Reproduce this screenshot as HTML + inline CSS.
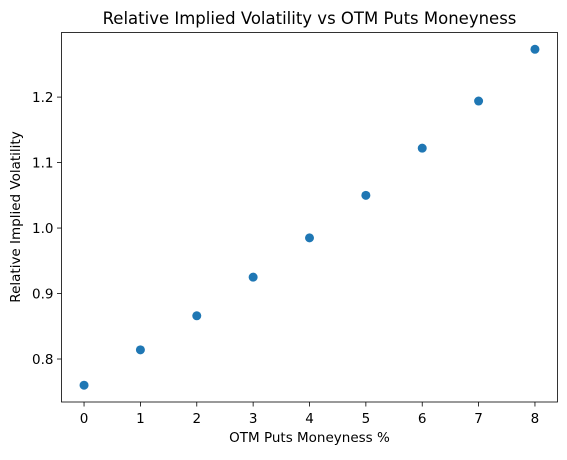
<!DOCTYPE html>
<html><head><meta charset="utf-8"><style>
body{margin:0;background:#fff;font-family:"Liberation Sans","DejaVu Sans",sans-serif;}
</style></head><body>
<svg id="chart" width="567" height="455" xmlns="http://www.w3.org/2000/svg" font-family="DejaVu Sans, Liberation Sans, sans-serif">
<text x="309.5" y="24" text-anchor="middle" font-size="16.5">Relative Implied Volatility vs OTM Puts Moneyness</text>
<g id="plot"></g>
<text x="309.5" y="442" text-anchor="middle" font-size="13.5">OTM Puts Moneyness %</text>
<text transform="translate(20,217) rotate(-90)" text-anchor="middle" font-size="13.5">Relative Implied Volatility</text>
</svg>
<script>
const categories=[0,1,2,3,4,5,6,7,8];
const values=[0.760,0.814,0.866,0.925,0.985,1.050,1.122,1.194,1.273];
const xTicks=[0,1,2,3,4,5,6,7,8];
const yTicks=[0.8,0.9,1.0,1.1,1.2];
const L=61.5,R=557.5,T=32.5,B=402;
const xmin=Math.min(...categories),xmax=Math.max(...categories);
const ymin0=Math.min(...values),ymax0=Math.max(...values);
const xp=(xmax-xmin)*0.05,yp=(ymax0-ymin0)*0.05;
const x=v=>L+(v-(xmin-xp))/((xmax+xp)-(xmin-xp))*(R-L);
const y=v=>B-(v-(ymin0-yp))/((ymax0+yp)-(ymin0-yp))*(B-T);
const g=document.getElementById('plot');
const NS='http://www.w3.org/2000/svg';
function mk(t,a){const e=document.createElementNS(NS,t);for(const k in a)e.setAttribute(k,a[k]);g.appendChild(e);return e;}
const fr=mk('rect',{x:L,y:T,width:R-L,height:B-T,fill:'none',stroke:'#000','stroke-width':0.8});


xTicks.forEach(t=>{
 const l=mk('line',{x1:x(t),x2:x(t),y1:B,y2:B+4.5,stroke:'#000','stroke-width':0.8});
 
 
 const tx=mk('text',{x:x(t),y:B+21,'text-anchor':'middle','font-size':13.5});
 
 
 tx.textContent=t;
});
yTicks.forEach(t=>{
 const l=mk('line',{x1:L-4.5,x2:L,y1:y(t),y2:y(t),stroke:'#000','stroke-width':0.8});
 
 
 const tx=mk('text',{x:L-8,y:y(t)+5,'text-anchor':'end','font-size':13.5});
 
 
 tx.textContent=t.toFixed(1);
});
categories.forEach((c,i)=>{
 const p=mk('circle',{cx:x(c),cy:y(values[i]),r:4.5,fill:'#1f77b4'});
 
 
});
</script>
</body></html>
